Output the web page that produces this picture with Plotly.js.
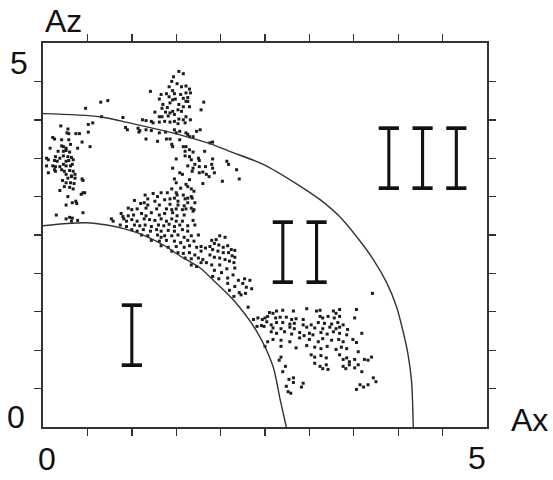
<!DOCTYPE html>
<html>
<head>
<meta charset="utf-8">
<script src="https://cdn.plot.ly/plotly-3.0.1.min.js"></script>
<style>
  html, body { margin: 0; padding: 0; background: #fff; }
  #chart { width: 553px; height: 480px; }
</style>
</head>
<body>
<div id="chart"></div>
<script>
// Measured points (Ax, Az), grouped by where they sit in the plane.
const leftX = [0.48,0.65,0.73,0.66,0.90,0.20,0.28,0.51,0.56,0.93,0.95,0.27,0.29,0.37,0.41,0.51,0.11,0.13,0.21,0.29,0.44,0.21,0.23,0.26,0.31,0.08,0.39,0.53,0.17,0.23,0.26,0.30,0.14,0.19,0.23,0.28,0.32,0.04,0.06,0.13,0.16,0.26,0.29,0.34,0.23,0.26,0.31,0.33,0.11,0.14,0.19,0.04,0.13,0.14,0.21,0.24,0.30,0.34,0.06,0.26,0.32,0.36,0.28,0.32,0.36,0.44,0.45,0.22,0.26,0.31,0.35,0.24,0.30,0.34,0.19,0.43,0.45,0.47,0.28,0.33,0.37,0.38,0.26,0.45,0.15,0.30,0.33,0.26,0.32,0.39];
const leftZ = [4.15,4.23,4.25,4.04,4.03,3.92,3.88,3.94,3.96,3.90,3.87,3.83,3.82,3.82,3.82,3.84,3.77,3.75,3.74,3.74,3.71,3.66,3.65,3.63,3.68,3.63,3.63,3.65,3.59,3.59,3.60,3.58,3.52,3.50,3.53,3.52,3.51,3.50,3.48,3.47,3.46,3.46,3.47,3.48,3.42,3.40,3.40,3.42,3.40,3.39,3.39,3.40,3.35,3.33,3.35,3.33,3.34,3.33,3.31,3.29,3.27,3.29,3.24,3.26,3.24,3.23,3.21,3.21,3.18,3.18,3.17,3.13,3.12,3.10,3.08,3.03,3.05,3.05,3.00,2.92,2.94,2.91,2.89,2.79,2.76,2.73,2.72,2.71,2.68,2.69];

const upperX = [1.53,1.58,1.47,1.45,1.51,1.42,1.46,1.56,1.61,1.21,1.65,1.66,1.33,1.39,1.42,1.48,1.55,1.61,1.31,1.46,1.49,1.58,1.63,1.35,1.43,1.53,1.61,1.63,1.81,1.34,1.40,1.52,1.58,1.65,1.26,1.38,1.43,1.46,1.56,1.78,1.31,1.34,1.41,1.48,1.53,1.61,1.66,1.58,1.12,1.16,1.22,1.24,1.31,1.37,1.43,1.48,1.52,1.60,1.07,1.09,1.08,1.16,1.22,1.31,1.38,1.48,1.50,1.54,1.61,1.63,1.73,1.77,1.16,1.29,1.39,1.43,1.54,1.65,1.69,1.45,1.46,1.58,1.61,1.88,1.91,1.60,1.65,1.69,1.82,1.50,1.60,1.65,1.67,1.75,1.76,1.91,1.63,1.71,1.76,1.83,1.90,1.91,1.46,2.07];
const upperZ = [4.63,4.60,4.56,4.50,4.47,4.43,4.38,4.43,4.44,4.37,4.40,4.35,4.33,4.34,4.30,4.34,4.33,4.35,4.27,4.26,4.27,4.28,4.29,4.20,4.22,4.20,4.24,4.24,4.23,4.15,4.16,4.13,4.17,4.17,4.10,4.10,4.09,4.11,4.11,4.13,4.04,4.04,4.05,4.07,4.01,4.04,4.00,4.00,4.00,3.99,3.98,3.96,3.97,3.98,3.97,3.98,3.95,3.96,3.89,3.86,3.84,3.87,3.86,3.83,3.84,3.87,3.83,3.85,3.83,3.81,3.85,3.87,3.75,3.72,3.75,3.75,3.74,3.78,3.78,3.68,3.65,3.65,3.65,3.70,3.71,3.59,3.61,3.58,3.59,3.49,3.53,3.52,3.48,3.50,3.47,3.49,3.40,3.42,3.39,3.39,3.42,3.37,3.37,3.46];

const midX = [2.09,1.93,1.76,1.80,1.84,1.68,2.18,2.21,1.87,2.02,1.80,1.70,1.68,1.71,1.67,1.69,1.54,1.69,1.48,1.50,1.57,1.65,1.61,1.63,1.45,1.55,1.67];
const midZ = [3.42,3.31,3.31,3.32,3.29,3.33,3.35,3.23,3.26,3.20,3.17,3.07,2.98,2.92,2.85,2.81,3.31,3.37,3.23,3.18,3.29,3.22,3.16,3.13,3.10,3.11,3.10];

const bandX = [1.15,1.24,1.29,1.33,1.40,1.50,1.51,1.58,1.03,1.18,1.26,1.37,1.43,1.48,1.52,1.60,1.63,1.67,1.10,1.14,1.18,1.31,1.43,1.52,1.59,1.63,0.96,1.00,1.06,1.16,1.28,1.39,1.45,1.50,1.57,1.61,1.70,0.88,0.90,0.96,1.02,1.11,1.16,1.22,1.31,1.37,1.46,1.51,1.59,0.77,0.79,0.91,0.94,1.00,1.06,1.14,1.20,1.26,1.33,1.39,1.45,1.50,1.57,1.69,0.87,0.94,1.03,1.09,1.15,1.22,1.30,1.36,1.42,1.48,1.54,1.63,1.71,1.00,1.06,1.13,1.21,1.28,1.33,1.41,1.48,1.57,1.63,1.11,1.18,1.29,1.33,1.37,1.45,1.52,1.59,1.67,1.75,1.22,1.31,1.39,1.48,1.55,1.63,1.70,1.33,1.41,1.50,1.59,1.65,1.73,1.45,1.52,1.58,1.65,1.71,1.78,1.60,1.67,1.75,1.78,1.67,1.73];
const bandZ = [3.02,3.04,3.00,3.05,3.05,3.05,3.02,3.02,2.95,2.97,2.94,2.96,2.97,2.98,2.94,2.97,2.98,3.00,2.91,2.92,2.89,2.89,2.90,2.89,2.88,2.92,2.85,2.83,2.84,2.85,2.84,2.84,2.83,2.84,2.83,2.84,2.83,2.78,2.74,2.75,2.76,2.78,2.75,2.79,2.76,2.78,2.79,2.75,2.76,2.71,2.68,2.71,2.68,2.70,2.68,2.71,2.70,2.69,2.71,2.68,2.71,2.68,2.68,2.69,2.63,2.61,2.63,2.62,2.63,2.61,2.63,2.62,2.64,2.61,2.63,2.62,2.63,2.57,2.55,2.57,2.55,2.57,2.55,2.56,2.55,2.57,2.55,2.50,2.49,2.50,2.47,2.49,2.49,2.50,2.47,2.49,2.50,2.43,2.42,2.43,2.42,2.40,2.43,2.42,2.36,2.34,2.35,2.34,2.36,2.34,2.29,2.27,2.26,2.27,2.24,2.29,2.20,2.19,2.20,2.14,2.11,2.09];

const shoulderX = [1.78,1.83,1.88,1.90,1.95,1.99,2.05,1.93,1.98,2.03,2.08,2.12,2.16,1.91,1.97,2.03,2.09,2.13,2.16,1.88,1.93,1.99,2.05,2.10,2.15,1.80,1.84,1.99,1.90,1.93,2.01,2.07,2.16,1.91,1.98,2.08,2.14,2.20,2.27,2.33,2.08,2.16,2.25,2.29,2.35,2.10,2.21,2.28,2.15,2.23,2.31,2.37,2.42,2.47,2.52,2.41,2.46];
const shoulderZ = [2.35,2.33,2.35,2.43,2.44,2.49,2.47,2.39,2.37,2.34,2.36,2.31,2.30,2.31,2.29,2.27,2.27,2.23,2.21,2.24,2.21,2.20,2.18,2.16,2.14,2.18,2.14,2.11,2.11,2.04,2.01,2.06,2.07,1.96,1.93,1.94,1.98,1.91,1.93,1.91,1.87,1.83,1.87,1.82,1.80,1.78,1.75,1.74,1.70,1.72,1.56,1.40,1.42,1.40,1.37,1.31,1.32];

const lowerX = [3.71,2.55,2.59,2.63,2.70,2.82,2.97,3.08,3.12,3.27,3.30,3.34,3.53,2.50,2.53,2.62,2.67,2.74,2.80,2.85,2.93,3.12,3.15,3.21,3.28,3.34,3.51,2.57,2.63,2.70,2.78,2.83,2.93,3.02,3.10,3.17,3.25,3.32,3.38,2.49,2.59,2.68,2.78,2.83,2.97,3.06,3.15,3.23,3.30,3.34,3.43,2.57,2.63,2.72,2.80,2.89,2.94,3.00,3.04,3.13,3.20,3.27,3.34,3.42,3.59,2.53,2.59,2.68,2.78,2.89,3.00,3.10,3.15,3.25,3.33,3.38,3.49,2.50,2.68,2.85,2.97,3.06,3.13,3.20,3.30,3.36,3.42,3.55,3.53,3.02,3.06,3.13,3.19,3.34,3.38,3.42,3.45,3.51,3.62,3.66,3.70,3.06,3.12,3.15,3.19,3.21,3.38,3.41,3.45,3.51,3.55,3.59,2.68,2.66,2.73,2.70,2.77,2.82,2.82,2.74,2.91,2.93,3.57,3.53,3.61,3.66,3.72,3.75,2.76,2.79];
const lowerZ = [1.74,1.49,1.48,1.51,1.52,1.51,1.54,1.51,1.52,1.51,1.48,1.53,1.53,1.42,1.44,1.42,1.43,1.43,1.40,1.41,1.40,1.44,1.42,1.44,1.42,1.44,1.42,1.33,1.36,1.36,1.34,1.35,1.33,1.33,1.36,1.35,1.34,1.36,1.33,1.31,1.29,1.28,1.30,1.28,1.30,1.29,1.28,1.30,1.28,1.30,1.27,1.24,1.22,1.24,1.21,1.23,1.19,1.22,1.20,1.23,1.21,1.24,1.22,1.20,1.22,1.11,1.14,1.13,1.11,1.16,1.14,1.11,1.15,1.13,1.14,1.11,1.14,1.05,1.05,1.03,1.06,1.04,1.02,1.05,1.01,1.04,1.02,0.98,1.10,0.94,0.91,0.93,0.90,0.94,0.88,0.90,0.85,0.88,0.88,0.87,0.91,0.83,0.79,0.76,0.81,0.75,0.79,0.76,0.81,0.77,0.81,0.72,0.91,0.87,0.79,0.72,0.62,0.64,0.58,0.53,0.52,0.57,0.55,0.49,0.52,0.55,0.64,0.59,0.46,0.44];

// Region boundaries traced along Az as a function of Ax.
const innerX = [0, 0.27, 0.49, 0.72, 0.92, 1.15, 1.37, 1.54, 1.77, 1.91, 2.14, 2.41, 2.59, 2.67, 2.74];
const innerZ = [2.62, 2.65, 2.66, 2.63, 2.58, 2.49, 2.36, 2.23, 2.07, 1.92, 1.66, 1.24, 0.79, 0.36, 0];
const outerX = [0, 0.64, 1.01, 1.39, 1.88, 2.10, 2.48, 2.85, 3.12, 3.34, 3.53, 3.72, 3.87, 3.98, 4.05, 4.11, 4.15, 4.17];
const outerZ = [4.08, 4.04, 3.95, 3.85, 3.69, 3.59, 3.42, 3.17, 2.96, 2.74, 2.48, 2.18, 1.88, 1.57, 1.27, 0.95, 0.60, 0];

const regionNames = ['I', 'II', 'III'];
const tickVals = [0.5, 1, 1.5, 2, 2.5, 3, 3.5, 4, 4.5];

const INK = '#1c1c1c';

const pointGroups = [[leftX, leftZ], [upperX, upperZ], [midX, midZ], [bandX, bandZ], [shoulderX, shoulderZ], [lowerX, lowerZ]];
const traces = pointGroups.map(function (g) {
  return {
    x: g[0], y: g[1], type: 'scatter', mode: 'markers', hoverinfo: 'skip',
    marker: { symbol: 'square', size: 3, color: INK, line: { width: 0 } }
  };
});
[[innerX, innerZ], [outerX, outerZ]].forEach(function (c) {
  traces.push({
    x: c[0], y: c[1], type: 'scatter', mode: 'lines', hoverinfo: 'skip',
    line: { color: '#333', width: 1.4, shape: 'spline', smoothing: 0.8 }
  });
});

function axis() {
  return {
    range: [0, 5], showgrid: false, zeroline: false,
    tickmode: 'array', tickvals: tickVals, showticklabels: false,
    ticks: 'outside', ticklen: 7, tickwidth: 1.4, tickcolor: '#333',
    showline: true, linewidth: 2, linecolor: '#333', mirror: 'ticks', fixedrange: true
  };
}

// Positions of the region labels (data units) and of the frame texts (paper units).
const numeralPos = [[1.00, 1.16], [2.89, 2.24], [4.27, 3.47]];
const numeralFont = { family: 'DejaVu Sans Mono', size: 56, color: '#111' };
const numeralStretch = 1.64;
const numeralThin = 2.4;   // white outline that slims the glyph strokes

const annotations = regionNames.map(function (t, i) {
  return { text: t, x: numeralPos[i][0], y: numeralPos[i][1], xref: 'x', yref: 'y',
           showarrow: false, xanchor: 'center', yanchor: 'middle', font: numeralFont };
});
const frameFont = { family: 'Liberation Sans, Arial, sans-serif', size: 32, color: '#111' };
[
  ['Az', 0, 1.056, 'left'], ['5', -0.055, 0.948, 'center'], ['0', -0.061, 0.026, 'center'],
  ['0', 0.008, -0.083, 'center'], ['5', 0.977, -0.082, 'center'], ['Ax', 1.0495, 0.0195, 'left']
].forEach(function (a) {
  annotations.push({ text: a[0], x: a[1], y: a[2], xref: 'paper', yref: 'paper',
                     showarrow: false, xanchor: a[3], yanchor: 'middle', font: frameFont });
});

const layout = {
  width: 553, height: 480,
  margin: { l: 43, r: 66, t: 43, b: 53, pad: 0 },
  paper_bgcolor: '#fff', plot_bgcolor: '#fff',
  showlegend: false,
  xaxis: axis(), yaxis: axis(),
  annotations: annotations
};

Plotly.newPlot('chart', traces, layout, { staticPlot: true, displayModeBar: false }).then(function (gd) {
  // Tall, narrow, thin-stroked roman numerals: stretch the glyphs vertically
  // about their centre and slim the strokes with a white outline.
  gd.querySelectorAll('g.annotation').forEach(function (g) {
    const idx = +g.getAttribute('data-index');
    if (idx >= regionNames.length) return;
    const txt = g.querySelector('text.annotation-text');
    if (!txt) return;
    const bb = txt.getBBox();
    const cy = bb.y + bb.height / 2;
    txt.setAttribute('transform',
      'translate(0,' + cy + ') scale(1,' + numeralStretch + ') translate(0,' + (-cy) + ')');
    txt.style.stroke = '#fff';
    txt.style.strokeWidth = numeralThin + 'px';
    txt.style.strokeLinejoin = 'miter';
    txt.style.paintOrder = 'fill';
  });
});
</script>
</body>
</html>
